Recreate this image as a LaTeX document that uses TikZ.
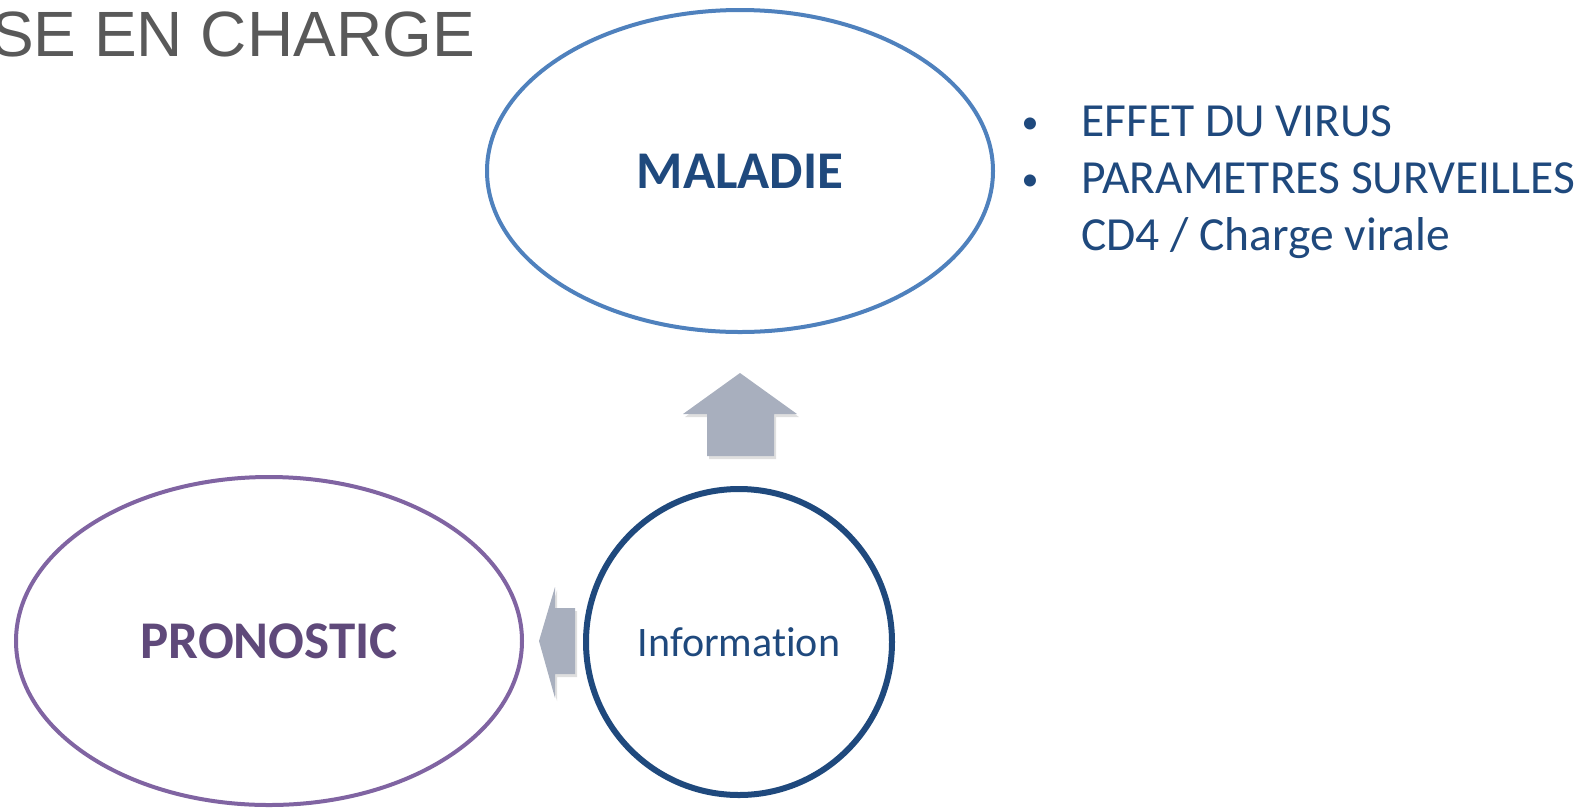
\documentclass[tikz,border=0pt]{standalone}
\usepackage{fontspec}
\setmainfont[Ligatures=NoCommon]{Carlito}
\newfontfamily\titlefont{Liberation Sans}
\usetikzlibrary{shapes.geometric,shadows,positioning}
\definecolor{maladieline}{HTML}{4F81BD}
\definecolor{darkblue}{HTML}{1F497D}
\definecolor{pronoline}{HTML}{8064A2}
\definecolor{pronotext}{HTML}{5F497A}
\definecolor{arrowgray}{HTML}{A8AFBE}
\definecolor{titlegray}{HTML}{595959}

\begin{document}
\begin{tikzpicture}[
    x=1pt, y=-1pt,
    bigoval/.style={ellipse,draw,line width=4pt,inner sep=0pt,fill=white,
        font=\bfseries\fontsize{53}{60}\selectfont},
    infocircle/.style={circle,draw=darkblue,line width=6pt,inner sep=0pt,minimum size=306pt,fill=white,
        font=\fontsize{42}{50}\selectfont,text=darkblue},
    blockarrow/.style={fill=arrowgray,
        drop shadow={opacity=0.25,shadow xshift=2pt,shadow yshift=-3pt}},
    listtext/.style={anchor=base west,inner sep=0pt,text=darkblue,font=\fontsize{47.5}{55}\selectfont},
    bullet/.style={anchor=base,inner sep=0pt,text=darkblue,font=\fontsize{34}{40}\selectfont}
]
    \useasboundingbox (0,0) rectangle (1595,807);

    % Title
    \node[anchor=base west,inner sep=0pt,text=titlegray,font=\titlefont\fontsize{64}{70}\selectfont]
        (title) at (-9,56) {SE EN CHARGE};

    % Maladie
    \node[bigoval,draw=maladieline,minimum width=506pt,minimum height=322pt,text=darkblue]
        (maladie) at (740,171) {MALADIE};

    % Pronostic
    \node[bigoval,draw=pronoline,minimum width=506pt,minimum height=328pt,text=pronotext]
        (pronostic) at (269,641) {PRONOSTIC};

    % Information
    \node[infocircle] (info) at (739,642) {Information};

    % Arrows
    \coordinate (uptip) at (740,373);
    \coordinate (lefttip) at (539,641);
    \fill[blockarrow] (uptip) -- ++(57,41) -- ++(-23,0) -- ++(0,42) -- ++(-67,0)
        -- ++(0,-42) -- ++(-24,0) -- cycle;
    \fill[blockarrow] (lefttip) -- ++(16,-54) -- ++(0,21) -- ++(20,0) -- ++(0,66)
        -- ++(-20,0) -- ++(0,24) -- cycle;

    % List
    \node[listtext] (virus) at (1081,136) {EFFET DU VIRUS};
    \node[listtext] (params) at (1081,193) {PARAMETRES SURVEILLES};
    \node[listtext] (cd4) at (1081,250) {CD4 / Charge virale};
    \node[bullet] (bulleta) at (1030,133) {•};
    \node[bullet] (bulletb) at (1030,190) {•};
\end{tikzpicture}
\end{document}
